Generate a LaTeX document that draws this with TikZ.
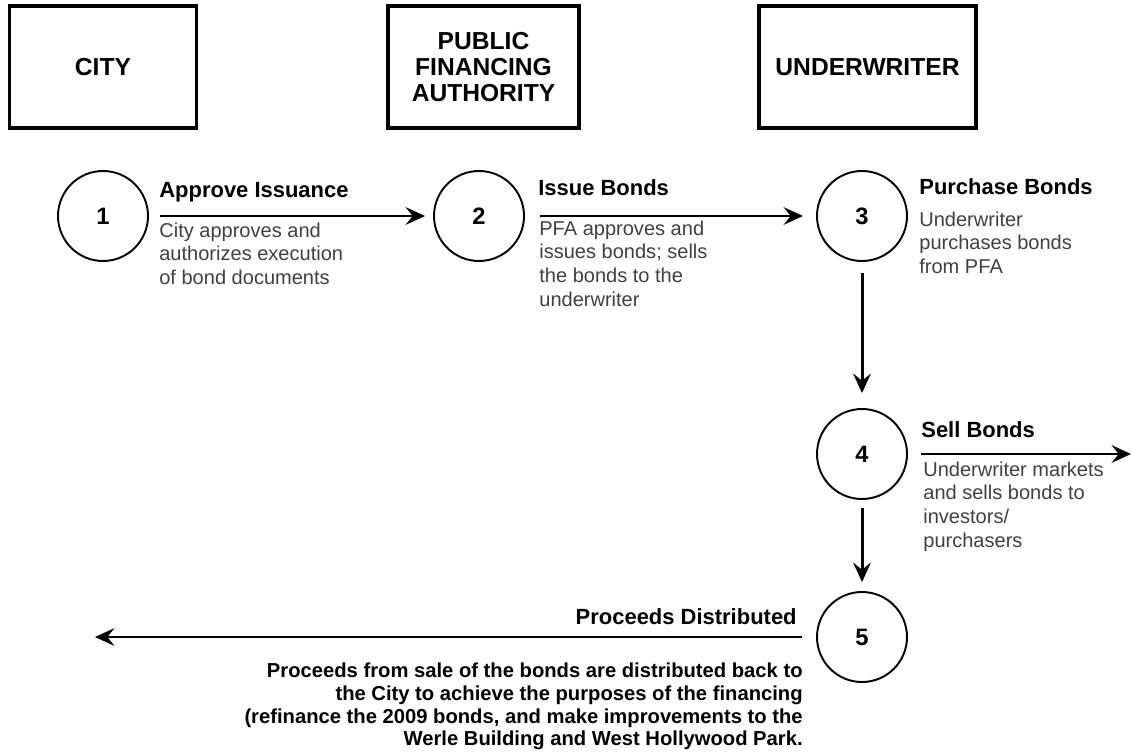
\documentclass[tikz,border=0pt]{standalone}
\usepackage{fontspec}
\setmainfont{Liberation Sans}
\usetikzlibrary{arrows.meta,positioning}

\begin{document}
\begin{tikzpicture}[
    party/.style={draw, line width=2pt, minimum height=2.44cm, align=center,
                  font=\fontsize{14}{15}\selectfont\bfseries},
    stepnum/.style={draw, circle, line width=1.1pt, minimum size=1.8cm,
                    inner sep=0pt, font=\fontsize{13.5}{15}\selectfont\bfseries},
    head/.style={anchor=base west, inner sep=0pt,
                 font=\fontsize{12.5}{15}\selectfont\bfseries},
    desc/.style={anchor=north west, inner sep=0pt, align=left, text=black!75,
                 font=\fontsize{11.4}{13.6}\selectfont},
    arr/.style={-{Stealth[length=11pt, width=10pt, inset=4pt]}, line width=1.7pt},
    on grid
  ]
  \useasboundingbox (0,0) rectangle (22.64,-15.08);

  % the five steps
  \node[stepnum] (s1) at (2.06,-4.32) {1};
  \node[stepnum, right=7.52cm of s1] (s2) {2};
  \node[stepnum, right=7.66cm of s2] (s3) {3};
  \node[stepnum, below=4.76cm of s3] (s4) {4};
  \node[stepnum, below=3.66cm of s4] (s5) {5};

  % parties
  \node[party, minimum width=3.74cm, above=2.98cm of s1] (city) {CITY};
  \node[party, minimum width=3.82cm, above=2.98cm of s2, xshift=0.09cm] (pfa)
    {PUBLIC\\FINANCING\\AUTHORITY};
  \node[party, minimum width=4.34cm, above=2.98cm of s3, xshift=0.11cm] (uw)
    {UNDERWRITER};

  % step texts
  \node[head] (h1) at (3.18,-3.96) {Approve Issuance};
  \node[desc] (d1) at (3.18,-4.40)
    {\strut City approves and\\authorizes execution\\of bond documents};
  \node[head] (h2) at (10.76,-3.92) {Issue Bonds};
  \node[desc] (d2) at (10.78,-4.36)
    {\strut PFA approves and\\issues bonds; sells\\the bonds to the\\underwriter};
  \node[head] (h3) at (18.38,-3.90) {Purchase Bonds};
  \node[desc] (d3) at (18.38,-4.18)
    {\strut Underwriter\\purchases bonds\\from PFA};
  \node[head] (h4) at (18.42,-8.74) {Sell Bonds};
  \node[desc] (d4) at (18.46,-9.18)
    {\strut Underwriter markets\\and sells bonds to\\investors/\\purchasers};
  \node[head, anchor=base east] (h5) at (15.94,-12.48) {Proceeds Distributed};
  \node[anchor=north east, inner sep=0pt, align=right,
        font=\fontsize{11.5}{13}\selectfont\bfseries] (d5) at (16.06,-13.22)
    {\strut Proceeds from sale of the bonds are distributed back to\\
     the City to achieve the purposes of the financing\\
     (refinance the 2009 bonds, and make improvements to the\\
     Werle Building and West Hollywood Park.};

  \coordinate (market) at (22.62,-9.02);
  \coordinate (back) at (1.90,-12.84);

  \draw[arr, shorten <=0.22cm, shorten >=0.16cm] (s1) -- (s2);
  \draw[arr, shorten <=0.30cm, shorten >=0.26cm] (s2) -- (s3);
  \draw[arr, shorten <=0.22cm, shorten >=0.30cm] (s3) -- (s4);
  \draw[arr, shorten <=0.16cm, shorten >=0.18cm] (s4) -- (s5);
  \draw[arr, shorten <=0.26cm] (s4) -- (s4 -| market);
  \draw[arr, shorten <=0.28cm] (s5) -- (s5 -| back);
\end{tikzpicture}
\end{document}
